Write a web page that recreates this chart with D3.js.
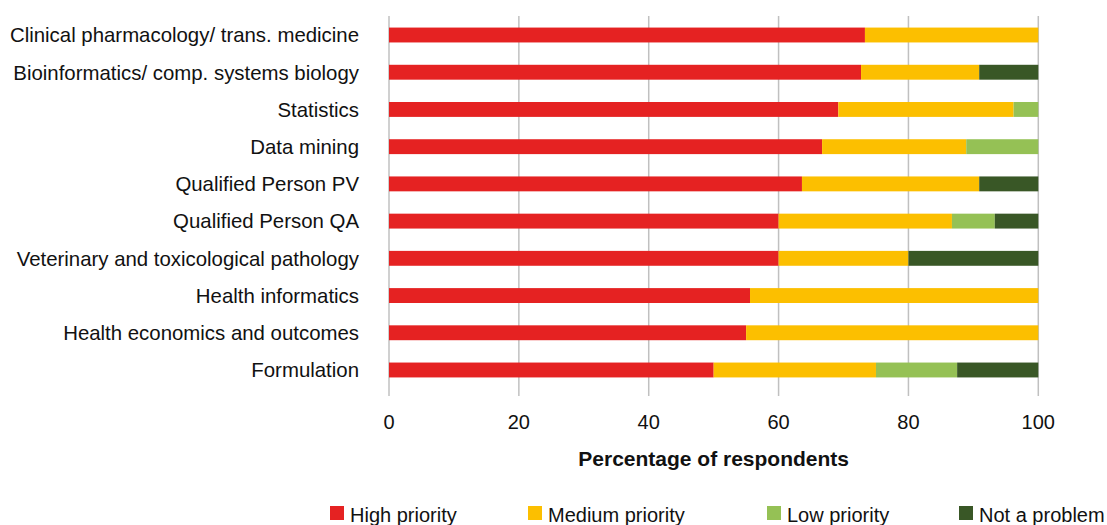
<!DOCTYPE html>
<html><head><meta charset="utf-8">
<script src="https://cdn.jsdelivr.net/npm/d3@7"></script>
<style>body{margin:0;background:#fff}svg{display:block}text{font-family:"Liberation Sans",Arial,Helvetica,sans-serif;fill:#111}</style>
</head><body>
<script>
const categories = ["Clinical pharmacology/ trans. medicine","Bioinformatics/ comp. systems biology","Statistics","Data mining","Qualified Person PV","Qualified Person QA","Veterinary and toxicological pathology","Health informatics","Health economics and outcomes","Formulation"];
const seriesNames = ["High priority","Medium priority","Low priority","Not a problem"];
const high   = [73.3, 72.7, 69.2, 66.7, 63.6, 60.0, 60.0, 55.6, 55.0, 50.0];
const medium = [26.7, 18.2, 27.0, 22.2, 27.3, 26.7, 20.0, 44.4, 45.0, 25.0];
const low    = [0,    0,    3.8,  11.1, 0,    6.6,  0,    0,    0,    12.5];
const notProb= [0,    9.1,  0,    0,    9.1,  6.7,  20.0, 0,    0,    12.5];
const xTicks = [0,20,40,60,80,100];
const colors = ["#e52222","#fcbf00","#95c155","#395726"];

const W=1107,H=525;
const svg=d3.select("body").append("svg").attr("width",W).attr("height",H);
const x=d3.scaleLinear().domain([0,100]).range([389,1038.3]);
const y=d3.scaleBand().domain(categories).range([16.4,388.6]).paddingInner(0.6).paddingOuter(0.3);

// gridlines
svg.append("g").selectAll("line").data(xTicks).join("line")
  .attr("x1",d=>x(d)).attr("x2",d=>x(d)).attr("y1",16).attr("y2",396)
  .attr("stroke","#c0c0c0").attr("stroke-width",1.5);

const stackData=categories.map((c,i)=>({cat:c,"High priority":high[i],"Medium priority":medium[i],"Low priority":low[i],"Not a problem":notProb[i]}));
const stack=d3.stack().keys(seriesNames)(stackData);
svg.append("g").selectAll("g").data(stack).join("g").attr("fill",(d,i)=>colors[i])
  .selectAll("rect").data(d=>d.filter(v=>v[1]-v[0]>0)).join("rect")
  .attr("x",d=>x(d[0])).attr("width",d=>x(d[1])-x(d[0]))
  .attr("y",d=>y(d.data.cat)).attr("height",y.bandwidth());

// category labels
svg.append("g").selectAll("text").data(categories).join("text")
  .attr("x",359).attr("y",d=>y(d)+y.bandwidth()/2+7.3).attr("text-anchor","end")
  .attr("font-size",20.4).text(d=>d);

// tick labels
svg.append("g").selectAll("text").data(xTicks).join("text")
  .attr("x",d=>x(d)).attr("y",429).attr("text-anchor","middle").attr("font-size",20).text(d=>d);

svg.append("text").attr("x",x(50)).attr("y",466).attr("text-anchor","middle")
  .attr("font-size",21).attr("font-weight","bold").text("Percentage of respondents");

// legend
const legX=[330,528,767,959];
const lg=svg.append("g").selectAll("g").data(seriesNames).join("g")
  .attr("transform",(d,i)=>`translate(${legX[i]},506)`);
lg.append("rect").attr("width",14).attr("height",14).attr("fill",(d,i)=>colors[i]);
lg.append("text").attr("x",20).attr("y",16).attr("font-size",20).text(d=>d);
</script>
</body></html>
